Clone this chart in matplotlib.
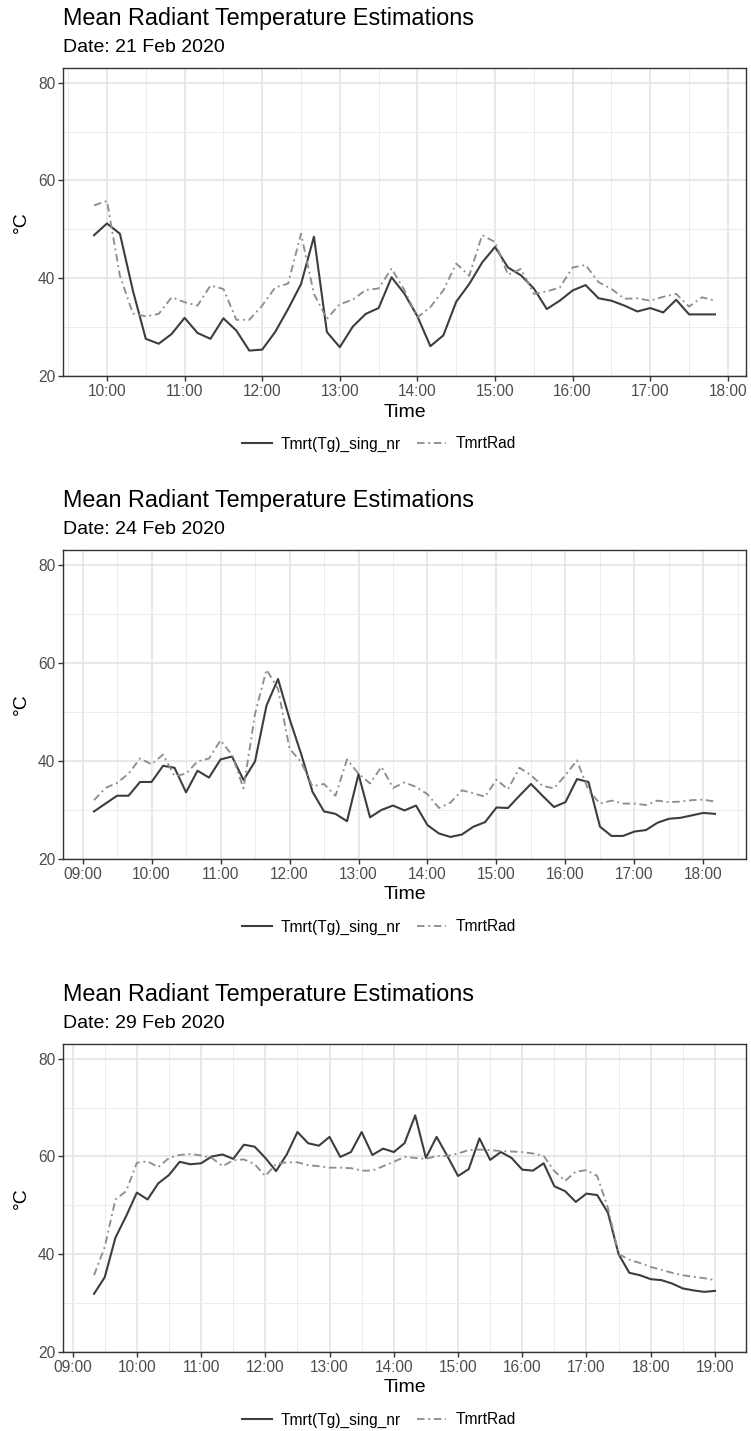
import matplotlib
matplotlib.use("Agg")
import matplotlib.pyplot as plt
import matplotlib.dates as mdates
from matplotlib.lines import Line2D
import pandas as pd

plt.rcParams['font.family'] = ['Liberation Sans', 'DejaVu Sans']

# ---------------- data ----------------
title = "Mean Radiant Temperature Estimations"
dates = ["Date: 21 Feb 2020", "Date: 24 Feb 2020", "Date: 29 Feb 2020"]
series_names = ["Tmrt(Tg)_sing_nr", "TmrtRad"]

p1_start, p1_end = "2020-02-21 09:50", "2020-02-21 17:50"
p1_tg = [48.8, 51.2, 49.1, 37.5, 27.6, 26.6, 28.6, 31.9, 28.8, 27.6,
         31.8, 29.3, 25.2, 25.4, 29.0, 33.7, 38.8, 48.5, 29.0, 25.9,
         30.1, 32.7, 33.9, 40.2, 36.8, 32.2, 26.1, 28.3, 35.2, 38.8,
         43.2, 46.4, 42.2, 40.6, 37.9, 33.7, 35.4, 37.5, 38.6, 35.9,
         35.4, 34.4, 33.2, 33.9, 33.0, 35.6, 32.6, 32.6, 32.6]
p1_rad = [54.9, 55.8, 40.5, 32.8, 32.2, 32.7, 36.1, 35.1, 34.4, 38.5,
          37.8, 31.5, 31.5, 34.4, 38.1, 38.9, 49.1, 36.8, 31.7, 34.7,
          35.6, 37.6, 37.9, 42.0, 37.5, 32.0, 34.1, 37.5, 43.0, 40.5,
          48.8, 47.4, 40.7, 41.9, 36.8, 37.3, 38.1, 42.2, 42.7, 39.2,
          37.8, 35.8, 35.9, 35.4, 36.2, 36.8, 34.2, 36.1, 35.4]

p2_start, p2_end = "2020-02-24 09:10", "2020-02-24 18:10"
p2_tg = [29.7, 31.3, 32.9, 32.9, 35.7, 35.7, 39.0, 38.6, 33.6, 38.0,
         36.6, 40.3, 40.9, 36.1, 39.9, 51.3, 56.7, 48.6, 41.5, 33.7,
         29.7, 29.2, 27.7, 37.3, 28.5, 30.0, 30.9, 29.9, 30.9,
         26.9, 25.2, 24.5, 25.0, 26.6, 27.5, 30.5, 30.4, 32.9, 35.3,
         32.9, 30.6, 31.6, 36.3, 35.7, 26.6, 24.7, 24.7, 25.6, 25.9,
         27.4, 28.2, 28.4, 28.9, 29.4, 29.2]
p2_rad = [32.0, 34.5, 35.5, 37.4, 40.5, 39.3, 41.3, 36.9, 37.4, 39.9,
          40.5, 44.2, 41.2, 34.4, 49.6, 58.6, 54.7, 42.5, 39.8, 34.8,
          35.3, 32.9, 40.3, 37.4, 35.4, 38.8, 34.5, 35.6, 34.7,
          33.2, 30.4, 31.5, 34.0, 33.4, 32.7, 36.2, 34.2, 38.6, 37.1,
          34.9, 34.4, 37.1, 40.1, 34.0, 31.3, 31.9, 31.3, 31.3, 31.0,
          31.9, 31.6, 31.7, 32.0, 32.1, 31.7]

p3_start, p3_end = "2020-02-29 09:20", "2020-02-29 19:00"
p3_tg = [31.9, 35.3, 43.4, 47.8, 52.6, 51.2, 54.5, 56.2, 58.9, 58.4,
         58.6, 60.0, 60.4, 59.5, 62.4, 62.0, 59.7, 57.0, 60.4, 65.0,
         62.7, 62.2, 64.0, 59.9, 60.9, 65.0, 60.3, 61.6, 60.9, 62.7,
         68.4, 59.7, 64.0, 60.1, 56.0, 57.4, 63.7, 59.3, 60.9, 59.7,
         57.3, 57.1, 58.6, 53.9, 52.9, 50.7, 52.4, 52.1, 48.5, 40.0,
         36.2, 35.7, 34.9, 34.7, 34.0, 33.0, 32.6, 32.3, 32.5]
p3_rad = [35.7, 41.5, 51.2, 52.9, 58.7, 59.0, 57.8, 59.7, 60.3, 60.5,
          60.2, 59.7, 58.0, 59.2, 59.4, 58.4, 56.0, 58.5, 58.8, 58.8,
          58.2, 58.0, 57.7, 57.7, 57.6, 57.1, 57.1, 58.0, 58.9, 59.9,
          59.7, 59.5, 60.1, 60.1, 60.6, 61.3, 61.4, 61.3, 61.1, 61.0,
          60.9, 60.6, 60.1, 57.0, 55.0, 56.9, 57.2, 56.0, 49.5, 40.0,
          38.9, 38.2, 37.4, 36.8, 36.2, 35.7, 35.4, 35.1, 34.7]

y_ticks = [20, 40, 60, 80]
y_minor = [30, 50, 70]

panels = [
    (p1_start, p1_end, p1_tg, p1_rad, dates[0]),
    (p2_start, p2_end, p2_tg, p2_rad, dates[1]),
    (p3_start, p3_end, p3_tg, p3_rad, dates[2]),
]

# ---------------- layout (pixels) ----------------
W, H = 751, 1431
AX_L, AX_R = 63, 746
tops = [68, 550, 1044]
bottoms = [376, 859, 1352]

SOLID_C = "#3d3d3d"
DASH_C = "#8e8e8e"
DASH_STYLE = (0, (4, 2, 1, 2))

fig = plt.figure(figsize=(W / 100, H / 100), dpi=100)
fig.patch.set_facecolor("white")


def fy(py):
    return 1 - py / H


for (start, end, tg, rad, sub), top, bot in zip(panels, tops, bottoms):
    t = pd.date_range(start, end, freq="10min")
    ax = fig.add_axes([AX_L / W, 1 - bot / H, (AX_R - AX_L) / W, (bot - top) / H])
    ax.plot(t, tg, color=SOLID_C, lw=1.5, solid_joinstyle="round")
    ax.plot(t, rad, color=DASH_C, lw=1.35, linestyle=DASH_STYLE)

    span = t[-1] - t[0]
    ax.set_xlim(t[0] - span * 0.05, t[-1] + span * 0.05)
    ax.set_ylim(20, 83)

    ax.xaxis.set_major_locator(mdates.HourLocator())
    ax.xaxis.set_minor_locator(mdates.MinuteLocator(byminute=[30]))
    ax.xaxis.set_major_formatter(mdates.DateFormatter("%H:%M"))
    ax.set_yticks(y_ticks)
    ax.set_yticks(y_minor, minor=True)

    ax.grid(True, which="major", color="#e4e4e4", lw=1.2)
    ax.grid(True, which="minor", color="#ececec", lw=0.7)
    ax.set_axisbelow(True)
    for s in ax.spines.values():
        s.set_color("#333333")
        s.set_linewidth(1.0)
    ax.tick_params(which="major", direction="out", length=3.5, width=1,
                   color="#333333", labelcolor="#4d4d4d", labelsize=11.2, pad=2)
    ax.tick_params(which="minor", length=0)

    # titles
    fig.text(AX_L / W, fy(top - 49), title, fontsize=16.8, color="black",
             ha="left", va="center")
    fig.text(AX_L / W, fy(top - 20), sub, fontsize=14, color="black",
             ha="left", va="center")
    # axis titles
    fig.text((AX_L + AX_R) / 2 / W, fy(bot + 36), "Time", fontsize=14,
             ha="center", va="center")
    fig.text(21 / W, fy((top + bot) / 2), "°C", fontsize=14, rotation=90,
             ha="center", va="center")
    # legend
    handles = [Line2D([], [], color=SOLID_C, lw=1.5),
               Line2D([], [], color=DASH_C, lw=1.35, linestyle=DASH_STYLE)]
    fig.legend(handles, series_names, loc="center",
               bbox_to_anchor=(379 / W, fy(bot + 68)), ncol=2, frameon=False,
               fontsize=11.2, handlelength=1.9, handletextpad=0.6,
               columnspacing=1.0)

fig.savefig("out.png", dpi=100, facecolor="white")
